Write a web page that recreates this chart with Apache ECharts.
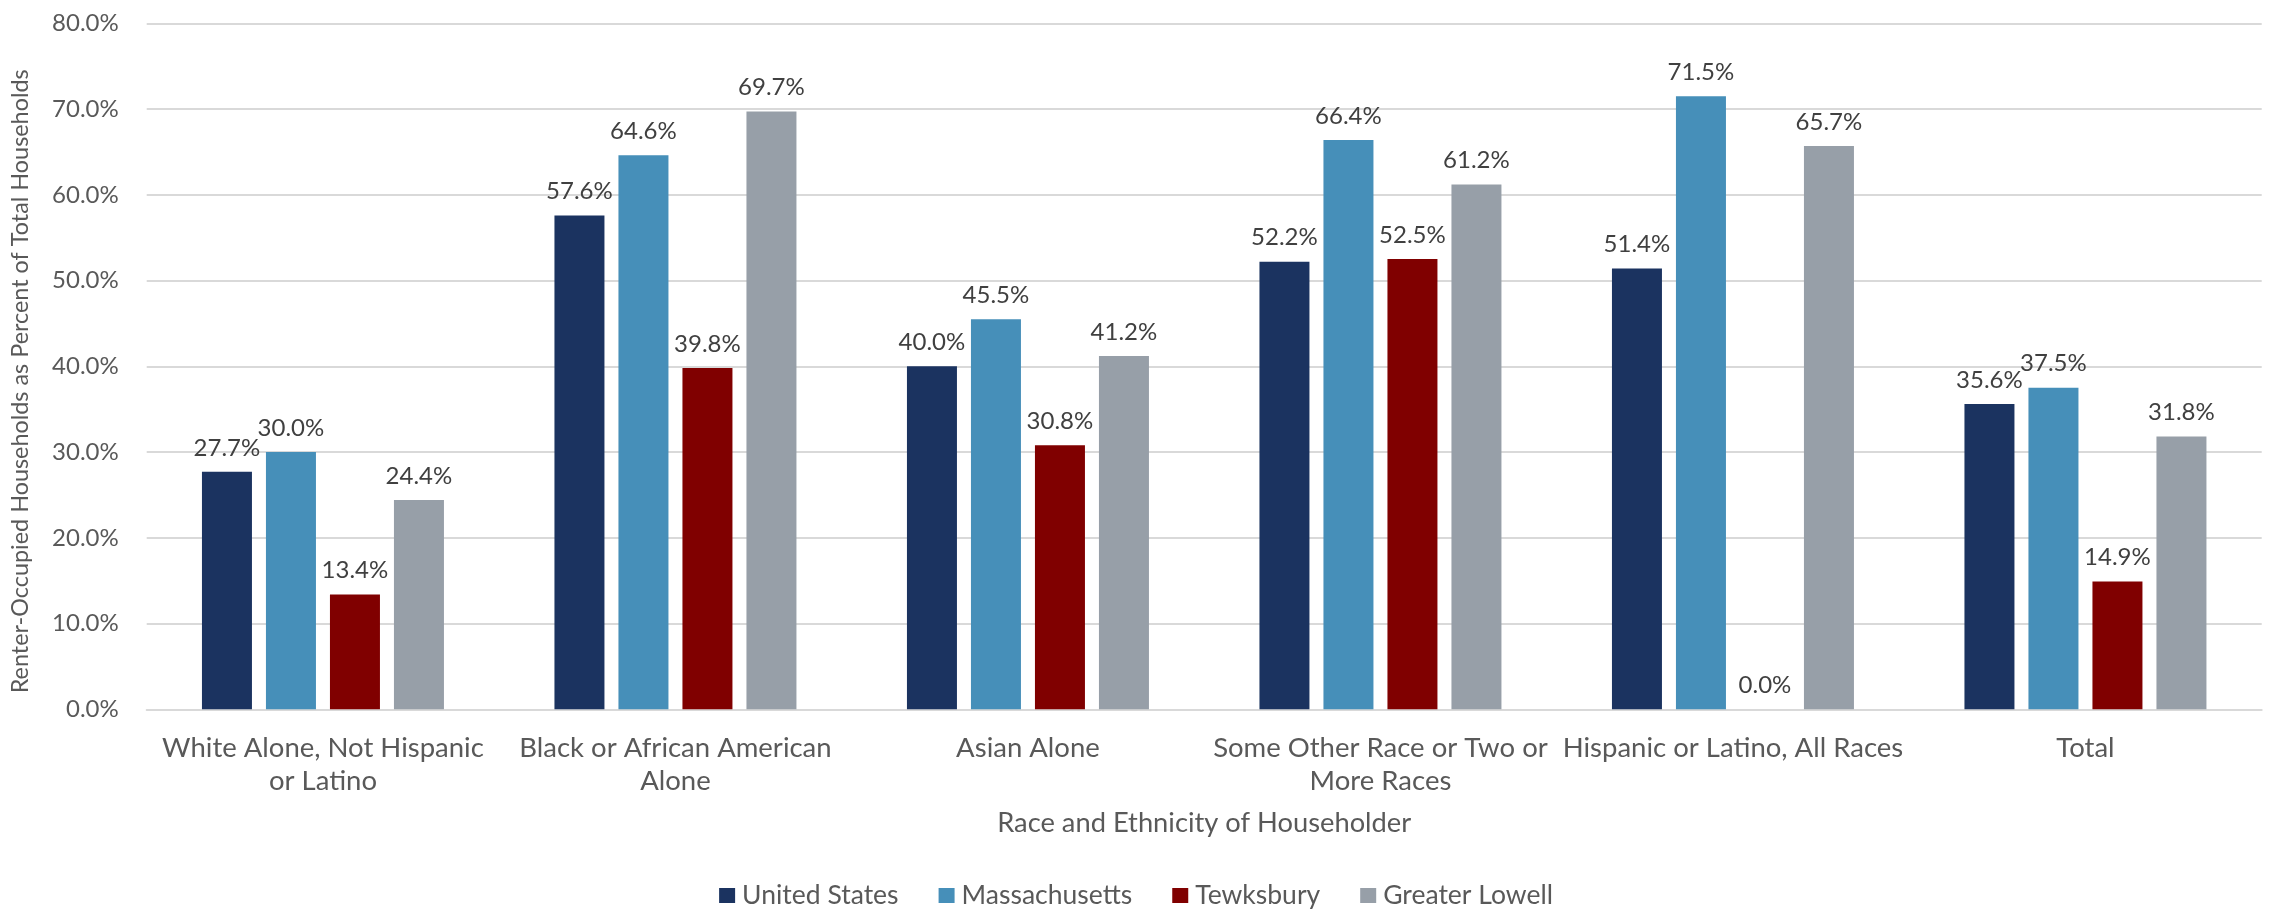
<!DOCTYPE html>
<html>
<head>
<meta charset="utf-8">
<title>Renter-Occupied Households by Race and Ethnicity</title>
<script src="https://cdn.jsdelivr.net/npm/echarts@6/dist/echarts.min.js"></script>
<style>
  html, body { margin: 0; padding: 0; background: #ffffff; }
  #chart { width: 2272px; height: 910px; }
</style>
</head>
<body>
<div id="chart"></div>
<script>
// Categories (race and ethnicity of householder), with the line breaks used on the axis
const categories = [
  'White Alone, Not Hispanic\nor Latino',
  'Black or African American\nAlone',
  'Asian Alone',
  'Some Other Race or Two or\nMore Races',
  'Hispanic or Latino, All Races',
  'Total'
];

// Renter-occupied share of households, percent
const unitedStates   = [27.7, 57.6, 40.0, 52.2, 51.4, 35.6];
const massachusetts  = [30.0, 64.6, 45.5, 66.4, 71.5, 37.5];
const tewksbury      = [13.4, 39.8, 30.8, 52.5, 0.0, 14.9];
const greaterLowell  = [24.4, 69.7, 41.2, 61.2, 65.7, 31.8];

const seriesNames = ['United States', 'Massachusetts', 'Tewksbury', 'Greater Lowell'];
const seriesValues = [unitedStates, massachusetts, tewksbury, greaterLowell];
const seriesColors = ['#1b3360', '#468fb9', '#800000', '#979fa8'];

// Value-axis ticks
const yMin = 0;
const yMax = 80;
const yStep = 10;

const FONT = 'Lato, "Open Sans", sans-serif';

const chart = echarts.init(document.getElementById('chart'), null, { renderer: 'canvas' });

const series = seriesNames.map((name, i) => ({
  name: name,
  type: 'bar',
  data: seriesValues[i],
  barWidth: 50,
  barGap: '28%',
  itemStyle: { color: seriesColors[i] },
  label: {
    show: true,
    position: 'top',
    distance: 12,
    color: '#404040',
    fontFamily: FONT,
    fontSize: 24,
    formatter: p => p.value.toFixed(1) + '%'
  }
}));

chart.setOption({
  animation: false,
  backgroundColor: '#ffffff',
  textStyle: { fontFamily: FONT },
  grid: {
    left: 146.7,
    right: 10.3,
    top: 23.3,
    bottom: 200.7,
    containLabel: false
  },
  legend: {
    data: seriesNames,
    left: 'center',
    top: 877,
    icon: 'rect',
    itemWidth: 16,
    itemHeight: 15,
    itemGap: 40,
    textStyle: { color: '#595959', fontSize: 26.5, fontFamily: FONT, padding: [0, 0, 0, 2] }
  },
  xAxis: {
    type: 'category',
    data: categories,
    name: 'Race and Ethnicity of Householder',
    nameLocation: 'middle',
    nameGap: 100,
    nameTextStyle: { color: '#595959', fontSize: 27.3, fontFamily: FONT },
    axisLine: { show: true, lineStyle: { color: '#d9d9d9', width: 2 } },
    axisTick: { show: false },
    axisLabel: {
      interval: 0,
      margin: 22,
      color: '#595959',
      fontSize: 27.5,
      lineHeight: 33,
      fontFamily: FONT
    }
  },
  yAxis: {
    type: 'value',
    min: yMin,
    max: yMax,
    interval: yStep,
    name: 'Renter-Occupied Households as Percent of Total Households',
    nameLocation: 'middle',
    nameRotate: 90,
    nameGap: 115,
    nameTextStyle: { color: '#595959', fontSize: 23.4, fontFamily: FONT, padding: [0, 30, 0, 0] },
    axisLine: { show: false },
    axisTick: { show: false },
    splitLine: { show: true, lineStyle: { color: '#d9d9d9', width: 2 } },
    axisLabel: {
      margin: 28,
      color: '#595959',
      fontSize: 24,
      fontFamily: FONT,
      formatter: v => v.toFixed(1) + '%'
    }
  },
  series: series
});
</script>
</body>
</html>
